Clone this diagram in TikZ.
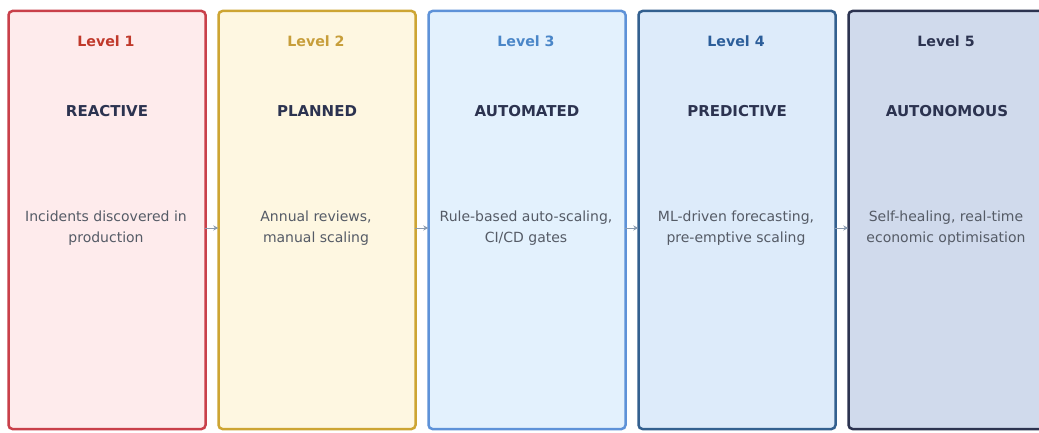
\documentclass[tikz,border=0pt]{standalone}
\usepackage{fontspec}
\setmainfont{DejaVu Sans}
\usepackage{xcolor}
\usetikzlibrary{positioning, arrows.meta, calc}

\definecolor{redline}{HTML}{C9404A}
\definecolor{redfill}{HTML}{FEEBEC}
\definecolor{redtext}{HTML}{C0392B}
\definecolor{goldline}{HTML}{CDA533}
\definecolor{goldfill}{HTML}{FEF7E1}
\definecolor{goldtext}{HTML}{C79E3A}
\definecolor{skyline}{HTML}{5E92D8}
\definecolor{skyfill}{HTML}{E3F1FD}
\definecolor{skytext}{HTML}{4A86C8}
\definecolor{steelline}{HTML}{33608F}
\definecolor{steelfill}{HTML}{DDEBFA}
\definecolor{steeltext}{HTML}{2C5E9A}
\definecolor{navyline}{HTML}{2C3350}
\definecolor{navyfill}{HTML}{D0DAEC}
\definecolor{navytext}{HTML}{2C3350}
\definecolor{desctext}{HTML}{555B66}
\definecolor{flowgray}{HTML}{8A9BB0}

\begin{document}
\begin{tikzpicture}[
    x=1pt, y=1pt,
    stage/.style={draw, rectangle, rounded corners=4pt, line width=2.5pt, minimum width=197pt, minimum height=418pt, inner sep=0pt},
    level/.style={font=\bfseries\fontsize{14.2}{17}\selectfont},
    title/.style={font=\bfseries\fontsize{15}{18}\selectfont, text=navytext},
    desc/.style={align=center, text=desctext, font=\fontsize{14}{21}\selectfont},
    flow/.style={-{Stealth[length=5pt, width=5pt]}, draw=flowgray, line width=1pt, shorten <=-2pt, shorten >=-1pt}
]

    \useasboundingbox[fill=white] (0,0) rectangle (1039,432);

    % ================= STAGES =================
    \node[stage, draw=redline,   fill=redfill]   (S1) at (107, 212) {};
    \node[stage, draw=goldline,  fill=goldfill]  (S2) at (317, 212) {};
    \node[stage, draw=skyline,   fill=skyfill]   (S3) at (527, 212) {};
    \node[stage, draw=steelline, fill=steelfill] (S4) at (737, 212) {};
    \node[stage, draw=navyline,  fill=navyfill]  (S5) at (947, 212) {};

    % ================= LEVELS =================
    \node[level, text=redtext]   (L1) at (106, 391) {Level 1};
    \node[level, text=goldtext]  (L2) at (316, 391) {Level 2};
    \node[level, text=skytext]   (L3) at (526, 391) {Level 3};
    \node[level, text=steeltext] (L4) at (736, 391) {Level 4};
    \node[level, text=navytext]  (L5) at (946, 391) {Level 5};

    % ================= NAMES =================
    \node[title] (T1) at (107, 321) {REACTIVE};
    \node[title] (T2) at (317, 321) {PLANNED};
    \node[title] (T3) at (527, 321) {AUTOMATED};
    \node[title] (T4) at (737, 321) {PREDICTIVE};
    \node[title] (T5) at (947, 321) {AUTONOMOUS};

    % ================= DESCRIPTIONS =================
    \node[desc] (D1) at (106, 204) {Incidents discovered in\\production};
    \node[desc] (D2) at (316, 204) {Annual reviews,\\manual scaling};
    \node[desc] (D3) at (526, 204) {Rule-based auto-scaling,\\CI/CD gates};
    \node[desc] (D4) at (736, 204) {ML-driven forecasting,\\pre-emptive scaling};
    \node[desc] (D5) at (946, 204) {Self-healing, real-time\\economic optimisation};

    % ================= PROGRESSION =================
    \draw[flow] (S1.east |- D1) -- (S2.west |- D2);
    \draw[flow] (S2.east |- D2) -- (S3.west |- D3);
    \draw[flow] (S3.east |- D3) -- (S4.west |- D4);
    \draw[flow] (S4.east |- D4) -- (S5.west |- D5);

\end{tikzpicture}
\end{document}
